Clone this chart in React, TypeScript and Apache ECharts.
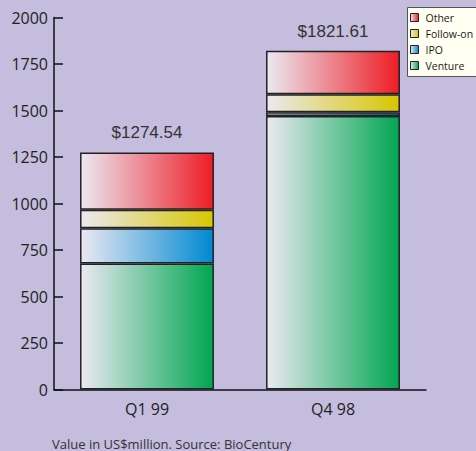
import React, { useEffect, useRef } from "react";
import * as echarts from "echarts";

const categories = ["Q1 99", "Q4 98"];
const venture = [677, 1470];
const ipo = [190, 20];
const followOn = [100, 97];
const other = [307.54, 234.61];
const totalLabels = ["$1274.54", "$1821.61"];

const grad = (c: string) =>
  new echarts.graphic.LinearGradient(0, 0, 1, 0, [
    { offset: 0, color: "#ebe9f2" },
    { offset: 1, color: c },
  ]);

export default function App() {
  const ref = useRef<HTMLDivElement>(null);
  useEffect(() => {
    if (!ref.current) return;
    const chart = echarts.init(ref.current, null, { renderer: "svg" });
    const itemBase = { borderColor: "#222", borderWidth: 1.5 };
    const mk = (name: string, data: number[], color: string, extra: any = {}) => ({
      name,
      type: "bar",
      stack: "total",
      barWidth: "72%",
      data,
      itemStyle: { ...itemBase, color: grad(color) },
      ...extra,
    });
    chart.setOption({
      animation: false,
      backgroundColor: "#c4bddd",
      textStyle: { fontFamily: "Open Sans" },
      grid: { left: 54, right: 50, top: 17.5, bottom: 61.5 },
      legend: {
        data: ["Other", "Follow-on", "IPO", "Venture"],
        orient: "vertical",
        left: 407,
        top: 7,
        icon: "rect",
        padding: [5, 4, 5, 3],
        itemGap: 5,
        itemWidth: 8,
        itemHeight: 8,
        itemStyle: { borderColor: "#222", borderWidth: 1 },
        textStyle: { fontSize: 10.5, color: "#1a1a1a", fontFamily: "Open Sans", padding: [0, 0, 0, 2] },
      },
      xAxis: {
        type: "category",
        data: categories,
        axisLine: { lineStyle: { color: "#111", width: 1.5 } },
        axisTick: { inside: true, length: 8, lineStyle: { color: "#111", width: 1.5 } },
        axisLabel: { fontSize: 16, color: "#222", margin: 11, fontFamily: "Open Sans" },
      },
      yAxis: {
        type: "value",
        min: 0,
        max: 2000,
        interval: 250,
        axisLine: { show: true, lineStyle: { color: "#111", width: 1.5 } },
        axisTick: { show: true, inside: true, length: 9, lineStyle: { color: "#111", width: 1.5 } },
        splitLine: { show: false },
        axisLabel: {
          fontSize: 16,
          color: "#222",
          margin: 6,
          fontFamily: "Open Sans",
          formatter: (v: number) => String(v),
        },
      },
      series: [
        mk("Venture", venture, "#00a651"),
        mk("IPO", ipo, "#0088d2"),
        mk("Follow-on", followOn, "#d8c600"),
        mk("Other", other, "#ee1c25", {
          label: {
            show: true,
            position: "top",
            distance: 11,
            fontSize: 17,
            color: "#333",
            fontFamily: "Liberation Sans",
            formatter: (p: any) => totalLabels[p.dataIndex],
          },
        }),
      ],
      graphic: [
        {
          type: "rect",
          z: 0,
          shape: { x: 407.5, y: 7.5, width: 80, height: 69 },
          style: { fill: "#fffff2", stroke: "#555", lineWidth: 1 },
        },
        {
          type: "text",
          left: 52,
          top: 437,
          style: {
            text: "Value in US$million. Source: BioCentury",
            fontSize: 13,
            fill: "#333",
            fontFamily: "Open Sans",
          },
        },
      ],
    });
    return () => chart.dispose();
  }, []);
  return (
    <div
      ref={ref}
      style={{ position: "fixed", left: 0, top: 0, width: 476, height: 451, background: "#c4bddd" }}
    />
  );
}
